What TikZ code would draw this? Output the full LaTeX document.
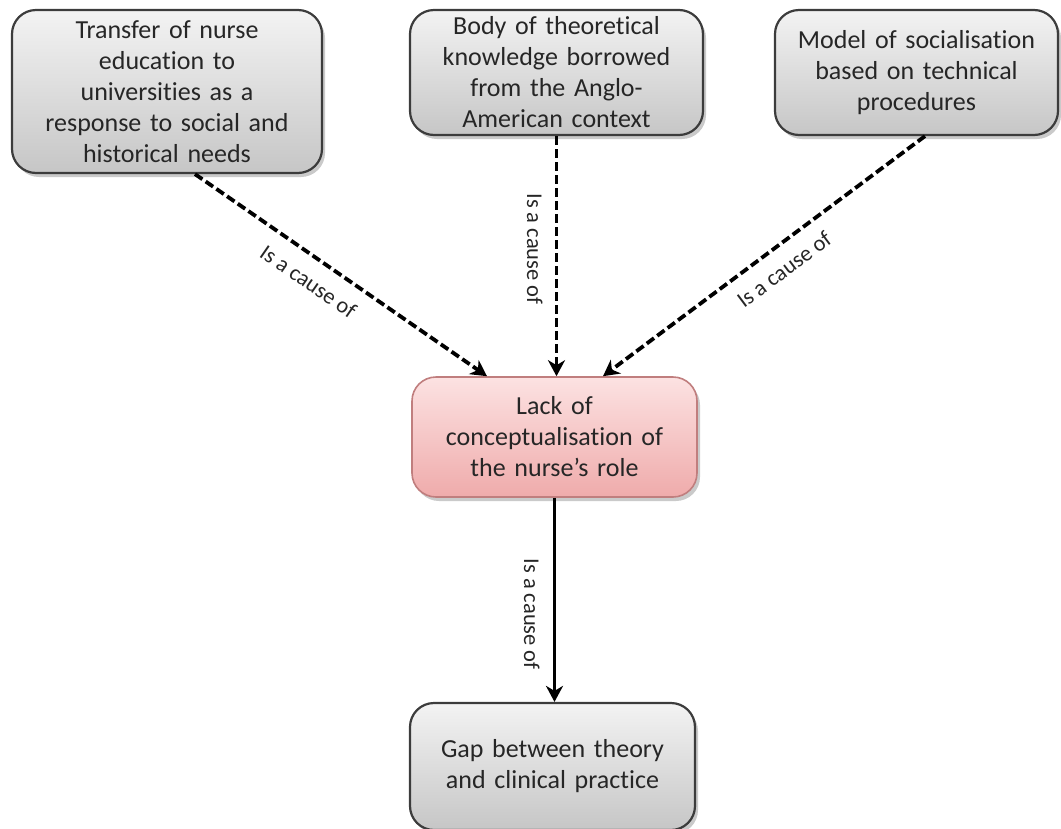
\documentclass[tikz,border=0pt]{standalone}
\usepackage{fontspec}
\setmainfont{Carlito}[Ligatures={NoCommon,NoContextual}]
\usetikzlibrary{arrows.meta,shadows,calc}
\definecolor{boxborder}{HTML}{3C3C3C}
\definecolor{gtop}{HTML}{F3F3F3}
\definecolor{gbot}{HTML}{C6C6C6}
\definecolor{ptop}{HTML}{FCE2E2}
\definecolor{pbot}{HTML}{EFABAB}
\definecolor{pborder}{HTML}{C07E7E}
\definecolor{txt}{HTML}{262626}
\begin{document}
\begin{tikzpicture}[x=1pt,y=-1pt,
  box/.style={draw=boxborder, line width=2.2pt, rounded corners=24pt,
    top color=gtop, bottom color=gbot, align=center, text=txt,
    font=\fontsize{26}{31}\selectfont, inner sep=0pt,
    drop shadow={shadow xshift=3pt, shadow yshift=-4pt, opacity=0.35, fill=black!60}},
  pinkbox/.style={box, draw=pborder, line width=1.6pt, top color=ptop, bottom color=pbot},
  cause/.style={line width=3.8pt, -{Stealth[length=16pt,width=17pt,inset=5pt]}},
  dashedcause/.style={cause, dash pattern=on 9pt off 4pt},
  lbl/.style={font=\fontsize{22.5}{25}\selectfont, text=txt, inner sep=0pt}
]
\useasboundingbox (0,0) rectangle (1061,828);

\node[box, minimum width=310pt, minimum height=163pt, text width=290pt] (b1) at (167,91.5)
  {Transfer of nurse\\education to\\universities as a\\response to social and\\historical needs};
\node[box, minimum width=293pt, minimum height=125pt, text width=280pt] (b2) at (556.5,72.5)
  {Body of theoretical\\knowledge borrowed\\from the Anglo-\\American context};
\node[box, minimum width=283pt, minimum height=125pt, text width=270pt] (b3) at (916.5,72.5)
  {Model of socialisation\\based on technical\\procedures};
\node[pinkbox, minimum width=285pt, minimum height=120pt, text width=270pt] (c) at (554.5,437)
  {Lack of\\conceptualisation of\\the nurse’s role};
\node[box, minimum width=285pt, minimum height=127pt, text width=270pt] (d) at (552.5,766.5)
  {Gap between theory\\and clinical practice};

\draw[dashedcause] ([xshift=28pt]b1.south) -- ([xshift=-67.5pt]c.north)
  node[lbl, pos=0.435, sloped, anchor=north, yshift=-14pt] {Is a cause of};
\draw[dashedcause] (b2.south) -- (b2.south |- c.north)
  node[lbl, pos=0.47, rotate=-90, anchor=north, yshift=-12pt] {Is a cause of};
\draw[dashedcause] ([xshift=8.5pt]b3.south) -- ([xshift=48.5pt]c.north)
  node[lbl, pos=0.48, sloped, anchor=north, yshift=-13pt] {Is a cause of};
\draw[cause] (c.south) -- (c.south |- d.north)
  node[lbl, pos=0.57, rotate=-90, anchor=north, yshift=-13pt] {Is a cause of};
\end{tikzpicture}
\end{document}
